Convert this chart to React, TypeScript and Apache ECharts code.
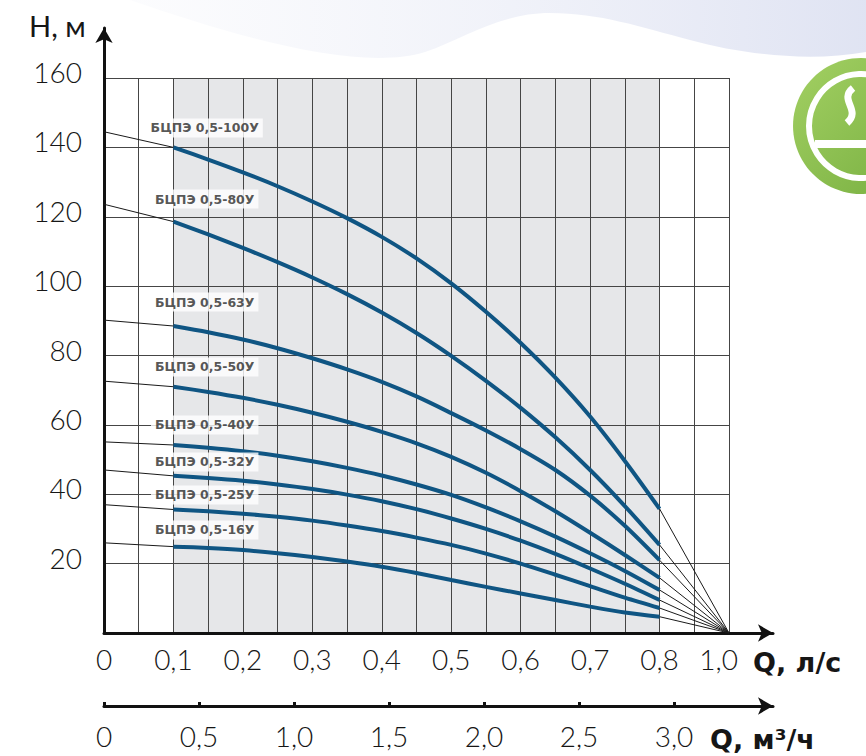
import React, { useEffect, useRef } from "react";
import * as echarts from "echarts";

// ---------- data ----------
// flow points of the working (blue) part of each curve, m³/h
const Q_POINTS = [0.4, 0.6, 0.8, 1.0, 1.2, 1.4, 1.6, 1.8, 2.0, 2.2, 2.4, 2.6, 2.8, 3.0, 3.2];

const PUMP_NAMES = [
  "БЦПЭ 0,5-100У",
  "БЦПЭ 0,5-80У",
  "БЦПЭ 0,5-63У",
  "БЦПЭ 0,5-50У",
  "БЦПЭ 0,5-40У",
  "БЦПЭ 0,5-32У",
  "БЦПЭ 0,5-25У",
  "БЦПЭ 0,5-16У",
];

const H_100 = [140, 136.5, 132.8, 128.8, 124.4, 119.6, 114.2, 108, 100.8, 92.6, 83.6, 73.6, 62.4, 49.6, 35.8];
const H_80 = [118.6, 114.9, 111.0, 106.9, 102.5, 97.7, 92.4, 86.5, 79.9, 72.7, 64.9, 56.4, 47.0, 36.6, 25.4];
const H_63 = [88.5, 86.7, 84.6, 82.1, 79.2, 76.0, 72.4, 68.2, 63.4, 58.4, 53.0, 47.0, 39.6, 30.9, 21.0];
const H_50 = [71, 69.5, 67.8, 65.8, 63.5, 60.9, 58.0, 54.7, 50.8, 46.2, 40.9, 35.1, 28.9, 22.5, 15.9];
const H_40 = [54.2, 53.4, 52.4, 51.1, 49.5, 47.6, 45.4, 42.8, 39.8, 36.2, 32.2, 27.8, 23.0, 17.9, 12.4];
const H_32 = [45.3, 44.7, 43.9, 42.8, 41.5, 39.9, 38.0, 35.7, 33.0, 30.0, 26.6, 22.8, 18.6, 14.2, 9.5];
const H_25 = [35.6, 35.1, 34.4, 33.5, 32.4, 31.0, 29.4, 27.5, 25.4, 22.9, 20.0, 16.8, 13.5, 10.2, 7.2];
const H_16 = [24.9, 24.5, 23.9, 23.0, 21.9, 20.6, 19.1, 17.3, 15.3, 13.3, 11.4, 9.5, 7.6, 5.9, 4.7];

const PUMP_HEADS = [H_100, H_80, H_63, H_50, H_40, H_32, H_25, H_16];

// head where the thin extension meets the H axis
const SHUTOFF_HEADS = [144.5, 123.6, 90.2, 72.6, 55.1, 47, 37, 26];
// all thin extensions converge here (m³/h, m)
const CONVERGE_Q = 3.6;
const CONVERGE_H = 0;

// shaded working zone (m³/h)
const ZONE_FROM = 0.4;
const ZONE_TO = 3.2;

// axes
const H_MIN = 0;
const H_MAX = 160;
const H_STEP = 20;
const Q_MAX = 3.6;
const Q_GRID_STEP = 0.2;
const TOP_AXIS_POSITIONS = [0, 0.4, 0.8, 1.2, 1.6, 2.0, 2.4, 2.8, 3.2, 3.54];
const TOP_AXIS_LABELS = ["0", "0,1", "0,2", "0,3", "0,4", "0,5", "0,6", "0,7", "0,8", "1,0"];
const BOTTOM_AXIS_TICKS = [0, 0.5, 1.0, 1.5, 2.0, 2.5, 3.0];

// ---------- layout ----------
const LABEL_Q = 0.58;
const LABEL_ANCHOR_H = [145.6, 125.1, 95.4, 76.7, 60, 49.3, 39.8, 29.7];

const FONT = "Lato, 'Open Sans', sans-serif";
const NAME_FONT = "'DejaVu Sans', sans-serif";
const BLUE = "#0f5583";
const TICK_SIZE = 28;

const WAVE_D =
  "M130 0 H866 V52 C810 62 745 55 690 40 C640 27 600 13 550 13 C500 13 465 38 425 52 C360 72 240 38 130 0 Z";
echarts.graphic.registerShape("bgWave", echarts.graphic.extendPath(WAVE_D, {}));

function fmtComma(v: number) {
  return v === 0 ? "0" : v.toFixed(1).replace(".", ",");
}

function buildOption() {
  const series: any[] = [];

  // shaded zone
  series.push({
    type: "line",
    xAxisIndex: 0,
    yAxisIndex: 0,
    data: [],
    silent: true,
    markArea: {
      silent: true,
      z: 1,
      itemStyle: { color: "#e6e7e9" },
      data: [[{ xAxis: ZONE_FROM, yAxis: H_MIN }, { xAxis: ZONE_TO, yAxis: H_MAX }]],
    },
  });

  PUMP_HEADS.forEach((heads, i) => {
    const last = heads.length - 1;
    series.push({
      type: "line",
      xAxisIndex: 0,
      yAxisIndex: 0,
      silent: true,
      symbol: "none",
      z: 3,
      lineStyle: { color: "#1a1a1a", width: 1 },
      data: [
        [0, SHUTOFF_HEADS[i]],
        [Q_POINTS[0], heads[0]],
      ],
    });
    series.push({
      type: "line",
      xAxisIndex: 0,
      yAxisIndex: 0,
      silent: true,
      symbol: "none",
      z: 3,
      lineStyle: { color: "#1a1a1a", width: 1 },
      data: [
        [Q_POINTS[last], heads[last]],
        [CONVERGE_Q, CONVERGE_H],
      ],
    });
    series.push({
      type: "line",
      name: PUMP_NAMES[i],
      xAxisIndex: 0,
      yAxisIndex: 0,
      silent: true,
      symbol: "none",
      smooth: 0.3,
      z: 4,
      lineStyle: { color: BLUE, width: 4 },
      data: Q_POINTS.map((q, j) => [q, heads[j]]),
    });
  });

  series.push({
    type: "scatter",
    xAxisIndex: 0,
    yAxisIndex: 0,
    silent: true,
    z: 6,
    symbolSize: 1,
    itemStyle: { color: "rgba(0,0,0,0)" },
    label: {
      show: true,
      position: "inside",
      formatter: "{b}",
      backgroundColor: "#fff",
      padding: [3, 4, 3, 4],
      fontSize: 12.5,
      fontFamily: NAME_FONT,
      fontWeight: "bold",
      color: "#2a2a2a",
    },
    data: PUMP_NAMES.map((n, i) => ({ name: n, value: [LABEL_Q, LABEL_ANCHOR_H[i]] })),
  });

  const bottomMax = (773 - 104) / 190;

  const arrowLine = {
    show: true,
    onZero: false,
    symbol: ["none", "arrow"],
    symbolSize: [13, 15],
    lineStyle: { color: "#111", width: 3 },
  };

  const tickLabel = {
    fontSize: TICK_SIZE,
    color: "#161616",
    fontFamily: FONT,
    fontWeight: 300,
  };

  return {
    animation: false,
    backgroundColor: "#fff",
    grid: [
      { left: 104, top: 78, width: 625, height: 555, outerBoundsMode: "none" },
      { left: 104, top: 28, right: 93, bottom: 123, outerBoundsMode: "none" },
      { left: 104, right: 93, top: 705, bottom: 50, outerBoundsMode: "none" },
    ],
    xAxis: [
      {
        gridIndex: 0,
        type: "value",
        min: 0,
        max: Q_MAX,
        interval: Q_GRID_STEP,
        z: 2,
        axisLine: { show: false },
        axisTick: { show: false },
        splitLine: { show: true, lineStyle: { color: "#454545", width: 1 } },
        axisLabel: {
          ...tickLabel,
          customValues: TOP_AXIS_POSITIONS,
          formatter: (v: number) => {
            const i = TOP_AXIS_POSITIONS.findIndex((p) => Math.abs(p - v) < 1e-6);
            return i >= 0 ? TOP_AXIS_LABELS[i] : "";
          },
          margin: 12,
        },
      },
      {
        gridIndex: 1,
        type: "value",
        min: 0,
        max: 1,
        z: 3,
        axisLine: arrowLine,
        axisTick: { show: false },
        axisLabel: { show: false },
        splitLine: { show: false },
      },
      {
        gridIndex: 2,
        type: "value",
        position: "bottom",
        min: 0,
        max: bottomMax,
        interval: 0.5,
        z: 3,
        axisLine: arrowLine,
        axisTick: {
          show: true,
          inside: true,
          length: 4,
          customValues: BOTTOM_AXIS_TICKS,
          lineStyle: { color: "#111", width: 3 },
        },
        splitLine: { show: false },
        axisLabel: {
          ...tickLabel,
          customValues: BOTTOM_AXIS_TICKS,
          formatter: (v: number) =>
            BOTTOM_AXIS_TICKS.some((t) => Math.abs(t - v) < 1e-6) ? fmtComma(v) : "",
          margin: 16,
        },
      },
    ],
    yAxis: [
      {
        gridIndex: 0,
        type: "value",
        min: H_MIN,
        max: H_MAX,
        interval: H_STEP,
        z: 2,
        axisLine: { show: false },
        axisTick: { show: false },
        splitLine: { show: true, lineStyle: { color: "#454545", width: 1 } },
        axisLabel: {
          ...tickLabel,
          formatter: (v: number) => (v === 0 ? "" : String(v)),
          margin: 22,
          verticalAlign: "bottom",
          lineHeight: 12,
        },
      },
      {
        gridIndex: 1,
        type: "value",
        min: 0,
        max: 1,
        z: 3,
        axisLine: arrowLine,
        axisTick: { show: false },
        axisLabel: { show: false },
        splitLine: { show: false },
      },
      { gridIndex: 2, type: "value", show: false },
    ],
    graphic: [
      {
        type: "bgWave",
        x: 0,
        y: 0,
        scaleX: 1,
        scaleY: 1,
        z: -10,
        silent: true,
        style: {
          fill: {
            type: "linear",
            x: 0,
            y: 0,
            x2: 1,
            y2: 0,
            colorStops: [
              { offset: 0, color: "rgba(238,240,248,0.2)" },
              { offset: 1, color: "rgba(222,226,242,0.95)" },
            ],
          },
        },
      },
      {
        type: "circle",
        silent: true,
        shape: { cx: 861, cy: 126, r: 68 },
        style: {
          fill: {
            type: "linear",
            x: 0,
            y: 0,
            x2: 1,
            y2: 1,
            colorStops: [
              { offset: 0, color: "#a3d063" },
              { offset: 1, color: "#76ae3f" },
            ],
          },
        },
      },
      {
        type: "circle",
        silent: true,
        shape: { cx: 861, cy: 126, r: 52 },
        style: { fill: "none", stroke: "#fff", lineWidth: 6 },
      },
      {
        type: "rect",
        silent: true,
        shape: { x: 815, y: 140, width: 60, height: 8 },
        style: { fill: "#fff" },
      },
      {
        type: "bezierCurve",
        silent: true,
        shape: { x1: 853, y1: 88, cpx1: 838, cpy1: 100, cpx2: 862, cpy2: 110, x2: 847, y2: 123 },
        style: { fill: "none", stroke: "#fff", lineWidth: 7 },
      },
      {
        type: "text",
        silent: true,
        x: 29,
        y: 25,
        style: {
          text: "Н, м",
          fontSize: 29,
          fontFamily: FONT,
          fill: "#161616",
          verticalAlign: "middle",
          align: "left",
        },
      },
      {
        type: "text",
        silent: true,
        x: 753,
        y: 662,
        style: {
          text: "Q, л/с",
          fontSize: 27,
          fontFamily: NAME_FONT,
          fontWeight: "bold",
          fill: "#161616",
          verticalAlign: "middle",
          align: "left",
        },
      },
      {
        type: "text",
        silent: true,
        x: 710,
        y: 739,
        style: {
          text: "Q, м³/ч",
          fontSize: 27,
          fontFamily: NAME_FONT,
          fontWeight: "bold",
          fill: "#161616",
          verticalAlign: "middle",
          align: "left",
        },
      },
    ],
    series,
  };
}

export default function App() {
  const ref = useRef<HTMLDivElement>(null);
  useEffect(() => {
    document.body.style.margin = "0";
    const chart = echarts.init(ref.current!, undefined, { renderer: "svg" });
    chart.setOption(buildOption() as any);
    return () => chart.dispose();
  }, []);
  return <div ref={ref} style={{ width: 866, height: 756 }} />;
}
